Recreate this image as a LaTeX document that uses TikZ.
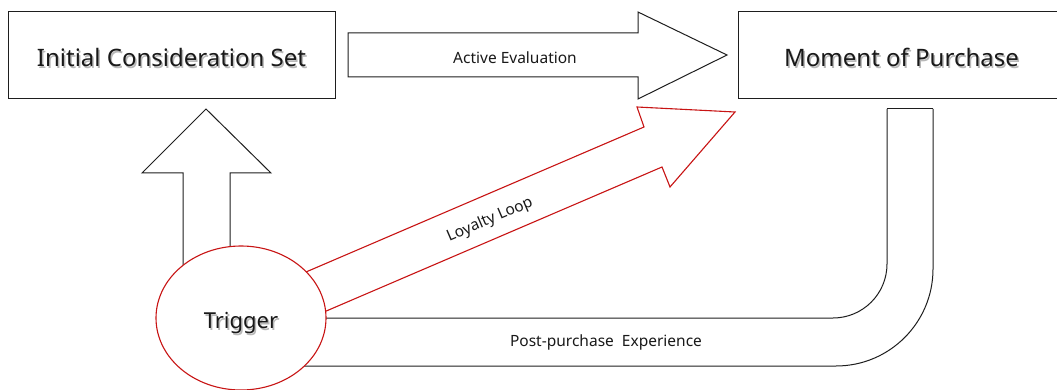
\documentclass[tikz,border=0pt]{standalone}
\usepackage{fontspec}
\setmainfont{Noto Sans}
\usetikzlibrary{shapes.geometric}
\definecolor{loopred}{RGB}{200,20,20}
\definecolor{edge}{RGB}{30,30,30}
\newcommand{\shadowed}[1]{\rlap{\hspace{1.5pt}\raisebox{-1.5pt}{\textcolor{black!28}{#1}}}#1}
\tikzset{
  box/.style={draw=edge, line width=1pt, fill=white, inner sep=0pt},
  bigtext/.style={font=\fontsize{24}{28}\selectfont, text=black!90},
  trgtext/.style={font=\fontsize{22}{26}\selectfont, text=black!90},
  smalltext/.style={font=\fontsize{15.5}{18}\selectfont, text=black!90},
  blockarrow/.style={draw=edge, line width=1pt, fill=white, line join=miter},
  bandline/.style={draw=edge, line width=1pt},
  redarrow/.style={draw=loopred, line width=1.1pt, fill=white, line join=miter},
}
\begin{document}
\begin{tikzpicture}[x=1pt,y=-1pt]
\useasboundingbox (0,0) rectangle (1057,390);
\clip (0,0) rectangle (1057,390);
% boxes
\node[box, minimum width=327pt, minimum height=87pt] (ics) at (171.5,55.5) {};
\node[box, minimum width=327pt, minimum height=87pt] (mop) at (901.5,55.5) {};
% active evaluation arrow
\draw[blockarrow] (348,33) -- (638,33) -- (638,12) -- (727,55) -- (638,99) -- (638,77) -- (348,77) -- cycle;
% up arrow
\draw[blockarrow] (183,300) -- (183,173) -- (142,173) -- (206,109) -- (271,173) -- (230,173) -- (230,300);
% post purchase band
\coordinate (innertop) at (887,109);
\coordinate (outertop) at (933,109);
\draw[bandline, rounded corners=54pt] (241,318) -- (887,318) -- (innertop);
\draw[bandline] (innertop) -- (outertop);
\draw[bandline, rounded corners=97pt] (outertop) -- (933,366) -- (241,366);
% loyalty loop arrow
\draw[redarrow] (250,296) -- (644,127) -- (637,107) -- (735,112) -- (670,187) -- (662,167) -- (268,336);
% trigger ellipse
\node[ellipse, draw=loopred, line width=1.1pt, fill=white, minimum width=170pt, minimum height=144pt, inner sep=0pt] (trg) at (241,318) {};
% texts
\node[bigtext] (icst) at ([yshift=-3pt]ics.center) {\shadowed{Initial Consideration Set}};
\node[bigtext] (mopt) at ([yshift=-3pt]mop.center) {\shadowed{Moment of Purchase}};
\node[trgtext] (trgt) at (241,324) {\shadowed{Trigger}};
\node[smalltext] (ae) at (515,58) {Active Evaluation};
\node[smalltext, rotate=23.3] (ll) at (490,220) {Loyalty Loop};
\node[smalltext] (pp) at (606,342) {Post-purchase\ \ Experience};
\end{tikzpicture}
\end{document}
